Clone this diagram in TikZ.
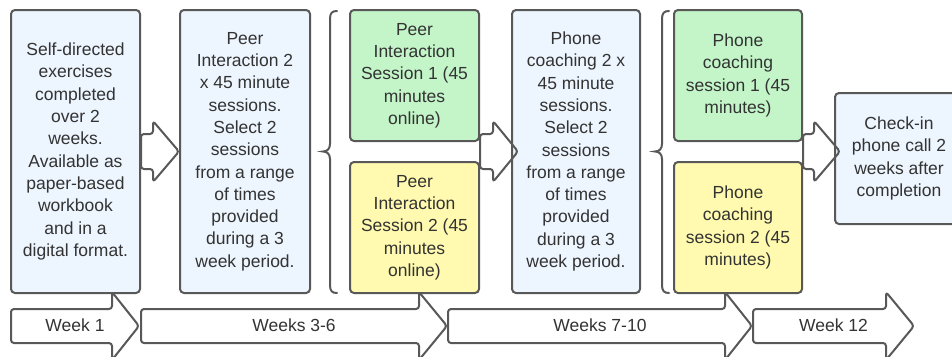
\documentclass[tikz,border=0pt]{standalone}
\usepackage{fontspec}
\setmainfont{Liberation Sans}
\usetikzlibrary{calc}
\definecolor{bluefill}{RGB}{237,245,254}
\definecolor{greenfill}{RGB}{195,245,200}
\definecolor{yellowfill}{RGB}{255,250,175}
\definecolor{edgegray}{RGB}{88,88,88}
\definecolor{txtgray}{RGB}{51,51,51}
\newcommand\timearrow[5]{%
  \draw[barrow] (#1,309) -- (#2,309) -- (#2,292) -- (#3,326) -- (#2,360) -- (#2,343) -- (#1,343) -- cycle;
  \node[tlabel] (#4) at ({(#1+#3)/2},325) {#5};}
\begin{document}
\begin{tikzpicture}[x=1pt,y=-1pt,
  box/.style={draw=edgegray, line width=2pt, rounded corners=4pt, align=center,
    text=txtgray, font=\fontsize{17.5}{22.3}\selectfont, inner sep=0pt},
  bluebox/.style={box, fill=bluefill, minimum width=129pt, minimum height=283pt},
  greenbox/.style={box, fill=greenfill, minimum width=129pt, minimum height=131pt},
  yellowbox/.style={box, fill=yellowfill, minimum width=129pt, minimum height=131pt},
  barrow/.style={draw=edgegray, line width=2pt, rounded corners=3pt, line join=round},
  bracestyle/.style={draw=edgegray, line width=2pt, line cap=round},
  tlabel/.style={text=txtgray, font=\fontsize{17.5}{22.3}\selectfont, inner sep=0pt}
]
\clip (0,0) rectangle (952,356);
\fill[white] (0,0) rectangle (952,356);

% boxes
\node[bluebox] (b1) at (75.5,151.5) {Self-directed\\exercises\\completed\\over 2\\weeks.\\Available as\\paper-based\\workbook\\and in a\\digital format.};
\node[bluebox, minimum width=130pt] (b2) at (245,151.5) {Peer\\Interaction 2\\x 45 minute\\sessions.\\Select 2\\sessions\\from a range\\of times\\provided\\during a 3\\week period.};
\node[greenbox] (g1) at (414.5,75.5) {Peer\\Interaction\\Session 1 (45\\minutes\\online)};
\node[yellowbox] (y1) at (414.5,227.5) {Peer\\Interaction\\Session 2 (45\\minutes\\online)};
\node[bluebox, minimum width=128pt] (p) at (576,151.5) {Phone\\coaching 2 x\\45 minute\\sessions.\\Select 2\\sessions\\from a range\\of times\\provided\\during a 3\\week period.};
\node[greenbox, minimum width=128pt] (g2) at (738,75.5) {Phone\\coaching\\session 1 (45\\minutes)};
\node[yellowbox, minimum width=128pt] (y2) at (738,227.5) {Phone\\coaching\\session 2 (45\\minutes)};
\node[box, fill=bluefill, minimum width=128pt, minimum height=131pt] (c) at (899,158.5) {Check-in\\phone call 2\\weeks after\\completion};

% braces
\draw[bracestyle] (337,11) .. controls (332,11) and (330,13) .. (330,19) -- (330,144)
  .. controls (330,149) and (327,151.5) .. (323,151.5)
  .. controls (327,151.5) and (330,154) .. (330,159) -- (330,285)
  .. controls (330,291) and (332,293) .. (337,293);
\draw[bracestyle] (669,11) .. controls (664,11) and (662,13) .. (662,19) -- (662,144)
  .. controls (662,149) and (659,151.5) .. (655,151.5)
  .. controls (659,151.5) and (662,154) .. (662,159) -- (662,285)
  .. controls (662,291) and (664,293) .. (669,293);

% block arrows between stages
\coordinate (s1) at (b1.east);
\draw[barrow] ($(s1)+(0,-17.5)$) -- ($(s1)+(12,-17.5)$) -- ($(s1)+(12,-30.5)$) -- (b2.west)
  -- ($(s1)+(12,30.5)$) -- ($(s1)+(12,17.5)$) -- ($(s1)+(0,17.5)$) -- cycle;
\coordinate (s2) at ($(g1.south east)!0.5!(y1.north east)$);
\draw[barrow] ($(s2)+(0,-17.5)$) -- ($(s2)+(13,-17.5)$) -- ($(s2)+(13,-30.5)$) -- ($(p.west)+(7,0)$)
  -- ($(s2)+(13,30.5)$) -- ($(s2)+(13,17.5)$) -- ($(s2)+(0,17.5)$) -- cycle;
\coordinate (s3) at ($(g2.south east)!0.5!(y2.north east)$);
\draw[barrow] ($(s3)+(0,-17.5)$) -- ($(s3)+(11,-17.5)$) -- ($(s3)+(11,-30.5)$) -- ($(c.west)+(6,-7)$)
  -- ($(s3)+(11,30.5)$) -- ($(s3)+(11,17.5)$) -- ($(s3)+(0,17.5)$) -- cycle;

% timeline
\timearrow{11}{112}{139}{w1}{Week 1}
\timearrow{141}{419}{447}{w2}{Weeks 3-6}
\timearrow{448}{725}{752}{w3}{Weeks 7-10}
\timearrow{753}{886}{914}{w4}{Week 12}
\end{tikzpicture}
\end{document}
